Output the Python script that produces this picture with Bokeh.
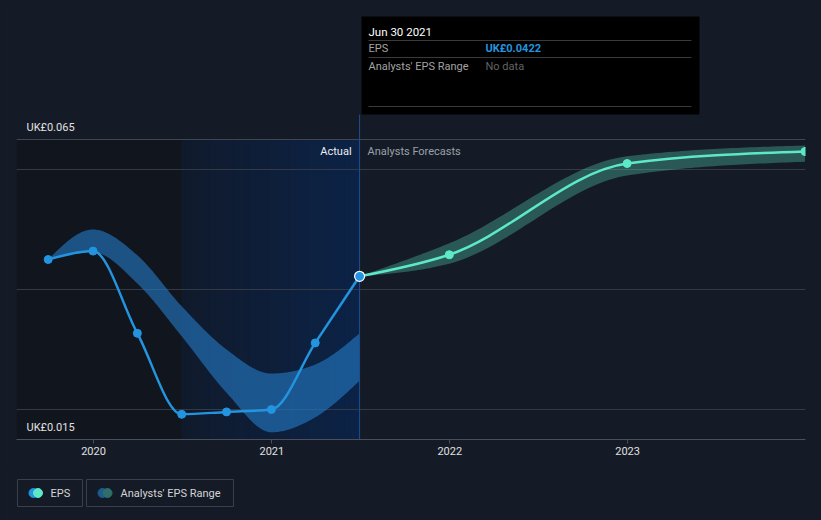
import numpy as np
import pandas as pd
from bokeh.plotting import figure
from bokeh.layouts import column
from bokeh.models import Range1d, FixedTicker, DatetimeTickFormatter
from bokeh.core.properties import value
from bokeh.embed import file_html
from bokeh.resources import INLINE

# ---------------- data ----------------
eps_dates = ["2019-09-30", "2019-12-31", "2020-03-31", "2020-06-30",
             "2020-09-30", "2020-12-31", "2021-03-31", "2021-06-30"]
eps_vals = [0.0450, 0.0464, 0.0327, 0.0192, 0.0196, 0.0200, 0.0311, 0.0422]

past_range_low = [0.0450, 0.0462, 0.0410, 0.0322, 0.0228, 0.0162, 0.0187, 0.0248]
past_range_high = [0.0450, 0.0500, 0.0457, 0.0372, 0.0300, 0.0260, 0.0275, 0.0327]

fc_dates = ["2021-06-30", "2021-12-31", "2022-12-31", "2023-12-31"]
fc_vals = [0.0422, 0.0458, 0.0610, 0.0630]
fc_low = [0.0422, 0.0443, 0.0590, 0.0613]
fc_high = [0.0422, 0.0477, 0.0622, 0.0640]

tick_years = ["2020", "2021", "2022", "2023"]
y_label_vals = [0.015, 0.065]
grid_vals = [0.02, 0.04, 0.06]
currency = "UK£"

# ---------------- style ----------------
BG = "#151b26"
DARK = "#11151d"
BLUE = "#2394df"
TEAL = "#5de8c8"
FONT = "Roboto"

W, H_MAIN, H_LEG = 821, 465, 55
FL, FR, FT, FB = 16, 805, 0, 439


def ms(d):
    return pd.Timestamp(d).value / 1e6


def ms_list(lst):
    return np.array([ms(d) for d in lst], dtype=float)


x_start, x_end = ms("2019-07-27"), ms("2024-01-01")
y_start = 0.015
y_end = 0.015 + (FB - FT) / 6000.0


def X(px):
    return x_start + (px - FL) / (FR - FL) * (x_end - x_start)


def Y(py):
    return y_start + (FB - py) / (FB - FT) * (y_end - y_start)


def tangents(x, y):
    x = np.asarray(x, float)
    y = np.asarray(y, float)
    n = len(x)
    h = np.diff(x)
    s = np.diff(y) / h
    m = np.zeros(n)
    for i in range(1, n - 1):
        p_ = (s[i - 1] * h[i] + s[i] * h[i - 1]) / (h[i - 1] + h[i])
        m[i] = (np.sign(s[i - 1]) + np.sign(s[i])) * min(abs(s[i - 1]), abs(s[i]), 0.5 * abs(p_))
    m[0] = (3 * s[0] - m[1]) / 2
    m[-1] = (3 * s[-1] - m[-2]) / 2
    return m


def bezier_parts(x, y):
    x = np.asarray(x, float)
    y = np.asarray(y, float)
    m = tangents(x, y)
    h = np.diff(x)
    return dict(x0=x[:-1], y0=y[:-1], x1=x[1:], y1=y[1:],
                cx0=x[:-1] + h / 3, cy0=y[:-1] + m[:-1] * h / 3,
                cx1=x[1:] - h / 3, cy1=y[1:] - m[1:] * h / 3)


def sample(x, y, k=40):
    x = np.asarray(x, float)
    y = np.asarray(y, float)
    m = tangents(x, y)
    xs, ys = [], []
    for i in range(len(x) - 1):
        h = x[i + 1] - x[i]
        t = np.linspace(0, 1, k, endpoint=(i == len(x) - 2))
        h00 = 2 * t**3 - 3 * t**2 + 1
        h10 = t**3 - 2 * t**2 + t
        h01 = -2 * t**3 + 3 * t**2
        h11 = t**3 - t**2
        xs.append(x[i] + t * h)
        ys.append(h00 * y[i] + h10 * h * m[i] + h01 * y[i + 1] + h11 * h * m[i + 1])
    return np.concatenate(xs), np.concatenate(ys)


ex = ms_list(eps_dates)
fx = ms_list(fc_dates)
hover_x = ex[-1]
hl_start = ms(pd.Timestamp(eps_dates[-1]) - pd.DateOffset(years=1))

p = figure(width=W, height=H_MAIN, output_backend="svg", toolbar_location=None,
           x_axis_type="datetime", y_axis_location=None,
           x_range=Range1d(x_start, x_end), y_range=Range1d(y_start, y_end),
           min_border_left=FL, min_border_right=W - FR, min_border_top=FT,
           min_border_bottom=H_MAIN - FB, styles={"background-color": BG})
p.background_fill_color = BG
p.border_fill_color = BG
p.outline_line_color = None
p.xgrid.visible = False
p.ygrid.visible = False

top_v = max(y_label_vals)
# dark past region
p.quad(left=[x_start], right=[hl_start], bottom=[y_start], top=[top_v],
       fill_color=DARK, line_color=None)
# gradient highlight region (last 12 months of actuals)
N = 60
edges = np.linspace(hl_start, hover_x, N + 1)
c0 = np.array([16, 26, 44])
c1 = np.array([12, 35, 71])
cols = []
for i in range(N):
    f = (i + 0.5) / N
    c = (c0 * (1 - f) + c1 * f).round().astype(int)
    cols.append("#%02x%02x%02x" % tuple(c))
p.quad(left=edges[:-1], right=hover_x, bottom=y_start, top=top_v,
       fill_color=cols, line_color=None)

# gridlines
p.segment(x0=x_start, x1=x_end, y0=grid_vals, y1=grid_vals, line_color="#343a45", line_width=1)
p.segment(x0=[x_start], x1=[x_end], y0=[top_v], y1=[top_v], line_color="#40454f", line_width=1)

# bands
bx, blo = sample(ex, past_range_low)
_, bhi = sample(ex, past_range_high)
p.varea(x=bx, y1=blo, y2=bhi, fill_color="#2379c4", fill_alpha=0.62)
fbx, flo = sample(fx, fc_low)
_, fhi = sample(fx, fc_high)
p.varea(x=fbx, y1=flo, y2=fhi, fill_color=TEAL, fill_alpha=0.3)

# hover line
p.segment(x0=[hover_x], x1=[hover_x], y0=[Y(114)], y1=[y_start],
          line_color="#1f4f8c", line_width=1)

# lines
p.bezier(**bezier_parts(ex, eps_vals), line_color=BLUE, line_width=2.5)
p.bezier(**bezier_parts(fx, fc_vals), line_color=TEAL, line_width=2.5)

# points
p.scatter(x=ex[:-1], y=eps_vals[:-1], size=8, fill_color=BLUE, line_color=BLUE)
p.scatter(x=fx[1:], y=fc_vals[1:], size=8, fill_color=TEAL, line_color=TEAL)
p.scatter(x=[hover_x], y=[eps_vals[-1]], size=10, fill_color=BLUE,
          line_color="white", line_width=1.2)

# y labels
p.text(x=[x_start] * len(y_label_vals), y=y_label_vals,
       text=[f"{currency}{v:.3f}" for v in y_label_vals],
       x_offset=10, y_offset=-12, text_baseline="middle", text_align="left",
       text_font=value(FONT), text_font_size="11px", text_color="#e2e2e2")

# Actual / Analysts Forecasts
p.text(x=[hover_x], y=[top_v], text=["Actual"], x_offset=-8, y_offset=12,
       text_align="right", text_baseline="middle", text_font=value(FONT),
       text_font_size="11px", text_color="#eeeeee")
p.text(x=[hover_x], y=[top_v], text=["Analysts Forecasts"], x_offset=8, y_offset=12,
       text_align="left", text_baseline="middle", text_font=value(FONT),
       text_font_size="11px", text_color="#9aa0a8")

# tooltip box
p.quad(left=[X(361)], right=[X(699)], top=[Y(16)], bottom=[Y(114)],
       fill_color="#000000", line_color=None)
p.segment(x0=[X(368)] * 3, x1=[X(691)] * 3, y0=[Y(40), Y(57), Y(106)],
          y1=[Y(40), Y(57), Y(106)], line_color="#3a3a3a", line_width=1)
hover_label = pd.Timestamp(eps_dates[-1]).strftime("%b %d %Y")
p.text(x=[X(368)], y=[Y(31)], text=[hover_label], text_baseline="middle",
       text_font=value(FONT), text_font_size="11.5px", text_color="#ffffff")
p.text(x=[X(368), X(368)], y=[Y(48), Y(66)], text=["EPS", "Analysts' EPS Range"],
       text_baseline="middle", text_font=value(FONT), text_font_size="11px",
       text_color="#a3a3a3")
p.text(x=[X(485)], y=[Y(48)], text=[f"{currency}{eps_vals[-1]:.4f}"],
       text_baseline="middle", text_font=value(FONT), text_font_size="11px",
       text_font_style="bold", text_color=BLUE)
p.text(x=[X(485)], y=[Y(66)], text=["No data"], text_baseline="middle",
       text_font=value(FONT), text_font_size="11px", text_color="#636363")

# x axis
ax = p.xaxis[0]
ax.ticker = FixedTicker(ticks=[ms(f"{y}-01-01") for y in tick_years])
ax.formatter = DatetimeTickFormatter(years="%Y", months="%Y", days="%Y", hours="%Y")
ax.axis_line_color = "#4a4f59"
ax.major_tick_line_color = "#4a4f59"
ax.major_tick_in = 0
ax.major_tick_out = 4
ax.minor_tick_line_color = None
ax.major_label_standoff = 3
ax.major_label_text_color = "#e0e0e0"
ax.major_label_text_font = FONT
ax.major_label_text_font_size = "11px"

# ---------------- legend strip ----------------
# (frames of plots in a column are aligned, so this frame also spans x = FL..FR)
lf = figure(width=W, height=H_LEG, output_backend="svg", toolbar_location=None,
            x_range=Range1d(FL, FR), y_range=Range1d(H_LEG, 0),
            x_axis_location=None, y_axis_location=None, min_border=0,
            min_border_left=FL, min_border_right=W - FR,
            styles={"background-color": BG})
lf.background_fill_color = BG
lf.border_fill_color = BG
lf.outline_line_color = None
lf.xgrid.visible = False
lf.ygrid.visible = False
lf.quad(left=[17, 86], right=[82, 233], top=[14, 14], bottom=[41, 41],
        fill_alpha=0, line_color="#3b404a", line_width=1)
lf.scatter(x=[33], y=[27.5], size=9, color=BLUE)
lf.scatter(x=[37.5], y=[27.5], size=9, color=TEAL)
lf.scatter(x=[102], y=[27.5], size=9, color="#1c5a8f")
lf.scatter(x=[107], y=[27.5], size=9, color="#2f6e69")
lf.text(x=[50, 120], y=[27.5, 27.5], text=["EPS", "Analysts' EPS Range"],
        text_baseline="middle", text_font=value(FONT), text_font_size="11px",
        text_color="#d4d4d4")

layout = column(p, lf, spacing=0, styles={"background-color": BG})
open("out.html", "w").write(file_html(layout, INLINE))
